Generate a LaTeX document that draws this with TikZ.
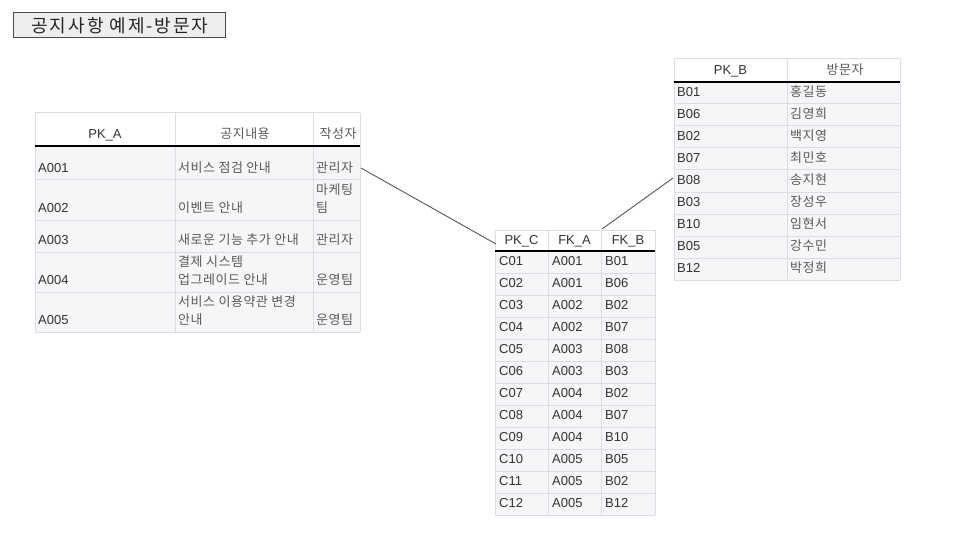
\documentclass[tikz,border=0pt]{standalone}
\usepackage{fontspec}
\setmainfont{Liberation Sans}
\newfontfamily\krfont{Noto Sans CJK KR}[LetterSpace=4]
\newfontfamily\krtitle{Noto Sans CJK KR}[LetterSpace=11]
\definecolor{gridc}{HTML}{DCDCE8}
\definecolor{bodyc}{HTML}{F6F6F8}
\definecolor{txtc}{HTML}{333333}
\definecolor{krc}{HTML}{5A5A5A}
\definecolor{linec}{HTML}{555555}
\definecolor{titlefill}{HTML}{EEEEEE}
\begin{document}
\begin{tikzpicture}[x=1pt,y=-1pt,
  cell/.style={anchor=base west, inner sep=0pt, text=txtc, font=\fontsize{13}{18}\selectfont},
  krcell/.style={cell, text=krc, font=\krfont\fontsize{13}{18}\selectfont},
  hcell/.style={anchor=base, inner sep=0pt, text=txtc, font=\fontsize{13}{18}\selectfont},
  krhcell/.style={hcell, text=krc, font=\krfont\fontsize{13}{18}\selectfont},
  gridline/.style={draw=gridc, line width=1pt},
  headline/.style={draw=black, line width=1.3pt},
  conn/.style={draw=linec, line width=0.9pt},
  titlebox/.style={draw=black!70, fill=titlefill, line width=1pt, minimum width=212pt, minimum height=25pt, inner sep=0pt, text=black!85, font=\krtitle\fontsize{18}{20}\selectfont},
]
\useasboundingbox (0,0) rectangle (960,540);

% ---------- title ----------
\node[titlebox] (title) at (119,25.5) {\hspace{2pt}공지사항 예제-방문자};

% ---------- table A ----------
\fill[bodyc] (35,146) rectangle (360,332);
\foreach \yy in {113,180,220,252,292,332} \draw[gridline] (35,\yy) -- (360,\yy);
\foreach \xx in {35,175,313,360} \draw[gridline] (\xx,113) -- (\xx,332);
\draw[headline] (35,146) -- (360,146);
\node[hcell]   (a-h-1) at (105,139) {PK\_A};
\node[krhcell] (a-h-2) at (245,139) {공지내용};
\node[krhcell] (a-h-3) at (338,139) {작성자};
% row 1
\node[cell]   (a-1-1) at (38,172.5) {A001};
\node[krcell] (a-1-2) at (178,172.5) {서비스 점검 안내};
\node[krcell] (a-1-3) at (316,172.5) {관리자};
% row 2
\node[cell]   (a-2-1) at (38,212.5) {A002};
\node[krcell] (a-2-2) at (178,212.5) {이벤트 안내};
\node[krcell] (a-2-3a) at (316,194.5) {마케팅};
\node[krcell] (a-2-3b) at (316,212.5) {팀};
% row 3
\node[cell]   (a-3-1) at (38,244.5) {A003};
\node[krcell] (a-3-2) at (178,244.5) {새로운 기능 추가 안내};
\node[krcell] (a-3-3) at (316,244.5) {관리자};
% row 4
\node[cell]   (a-4-1) at (38,284.5) {A004};
\node[krcell] (a-4-2a) at (178,266.5) {결제 시스템};
\node[krcell] (a-4-2b) at (178,284.5) {업그레이드 안내};
\node[krcell] (a-4-3) at (316,284.5) {운영팀};
% row 5
\node[cell]   (a-5-1) at (38,324.5) {A005};
\node[krcell] (a-5-2a) at (178,306.5) {서비스 이용약관 변경};
\node[krcell] (a-5-2b) at (178,324.5) {안내};
\node[krcell] (a-5-3) at (316,324.5) {운영팀};

% ---------- table B ----------
\fill[bodyc] (674,82) rectangle (900,280);
\draw[gridline] (674,59) -- (900,59);
\foreach \k in {1,...,9} \draw[gridline] (674,82+22*\k) -- (900,82+22*\k);
\foreach \xx in {674,787,900} \draw[gridline] (\xx,59) -- (\xx,280);
\draw[headline] (674,82) -- (900,82);
\node[hcell]   (b-h-1) at (730.5,74.5) {PK\_B};
\node[krhcell] (b-h-2) at (845,74.5) {방문자};
\foreach \kk/\nn [count=\i] in {B01/홍길동,B06/김영희,B02/백지영,B07/최민호,B08/송지현,B03/장성우,B10/임현서,B05/강수민,B12/박정희}{
  \node[cell]   (b-\i-1) at (677,74.5+22*\i) {\kk};
  \node[krcell] (b-\i-2) at (790,74.5+22*\i) {\nn};
}

% ---------- table C ----------
\fill[bodyc] (495,251) rectangle (655,515);
\draw[gridline] (495,230) -- (655,230);
\foreach \k in {1,...,12} \draw[gridline] (495,251+22*\k) -- (655,251+22*\k);
\foreach \xx in {495,548,601,655} \draw[gridline] (\xx,230) -- (\xx,515);
\draw[headline] (495,251) -- (655,251);
\node[hcell] (c-h-1) at (521.5,244.5) {PK\_C};
\node[hcell] (c-h-2) at (574.5,244.5) {FK\_A};
\node[hcell] (c-h-3) at (628,244.5) {FK\_B};
\foreach \cc/\aa/\bb [count=\i] in {C01/A001/B01,C02/A001/B06,C03/A002/B02,C04/A002/B07,C05/A003/B08,C06/A003/B03,C07/A004/B02,C08/A004/B07,C09/A004/B10,C10/A005/B05,C11/A005/B02,C12/A005/B12}{
  \node[cell] (c-\i-1) at (499,243.5+22*\i) {\cc};
  \node[cell] (c-\i-2) at (552,243.5+22*\i) {\aa};
  \node[cell] (c-\i-3) at (605,243.5+22*\i) {\bb};
}

% ---------- connectors ----------
\coordinate (ja) at (361,168);
\coordinate (jc1) at (496,244);
\coordinate (jc2) at (602,229);
\coordinate (jb) at (673,178);
\draw[conn] (ja) -- (jc1);
\draw[conn] (jc2) -- (jb);
\end{tikzpicture}
\end{document}
